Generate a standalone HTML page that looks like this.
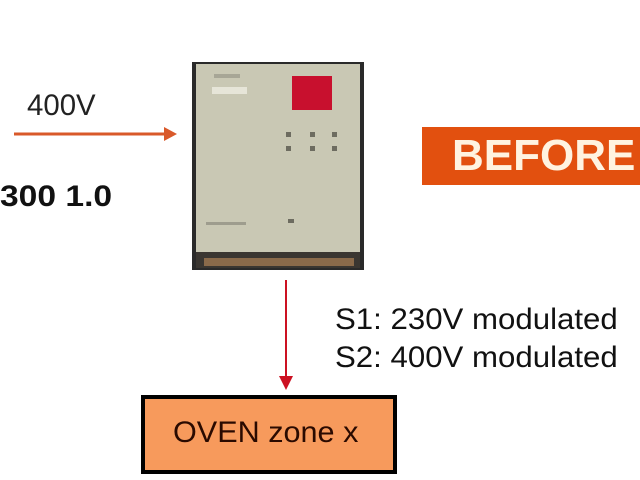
<!DOCTYPE html>
<html><head><style>
body{margin:0;width:640px;height:480px;background:#fff;position:relative;overflow:hidden;font-family:"Liberation Sans",Arial,sans-serif}
.a{position:absolute;white-space:nowrap;transform-origin:0 0}
</style></head><body>
<div class="a" style="left:27px;top:89px;font-size:30px;color:#222;transform:scaleX(0.98)">400V</div>
<div class="a" style="left:0px;top:180px;font-size:30px;font-weight:bold;color:#111;transform:scaleX(1.12)">300 1.0</div>
<svg class="a" style="left:0;top:0" width="640" height="480">
<line x1="14" y1="134" x2="166" y2="134" stroke="#d9592a" stroke-width="3"/>
<polygon points="164,127 177,134 164,141" fill="#d9592a"/>
<line x1="286" y1="280" x2="286" y2="380" stroke="#cc1122" stroke-width="2"/>
<polygon points="279,376 293,376 286,390" fill="#cc1122"/>
<rect x="192" y="62" width="172" height="208" fill="#2a2a2a"/>
<rect x="196" y="64" width="164" height="196" fill="#c9c8b4"/>
<rect x="292" y="76" width="40" height="34" fill="#c8102e"/>
<rect x="212" y="87" width="35" height="7" fill="#e6e5d8"/>
<rect x="214" y="74" width="26" height="4" fill="#a7a696"/>
<g fill="#6d6c60"><rect x="286" y="132" width="5" height="5"/><rect x="310" y="132" width="5" height="5"/><rect x="332" y="132" width="5" height="5"/>
<rect x="286" y="146" width="5" height="5"/><rect x="310" y="146" width="5" height="5"/><rect x="332" y="146" width="5" height="5"/>
<rect x="288" y="219" width="6" height="4"/><rect x="206" y="222" width="40" height="3" fill="#9e9d8e"/></g>
<rect x="196" y="252" width="164" height="16" fill="#3a3631"/>
<rect x="204" y="258" width="150" height="8" fill="#8a6a4a"/>
<rect x="422" y="127" width="218" height="58" fill="#e2500f"/>
<rect x="143" y="397" width="252" height="75" fill="#f79a5c" stroke="#000" stroke-width="4"/>
</svg>
<div class="a" style="left:452px;top:131px;font-size:44px;font-weight:bold;color:#fff3e0">BEFORE</div>
<div class="a" style="left:335px;top:301px;font-size:30px;line-height:38px;color:#111;transform:scaleX(1.04)">S1: 230V modulated<br>S2: 400V modulated</div>
<div class="a" style="left:173px;top:416px;font-size:30px;color:#2a0a00;transform:scaleX(1.02)">OVEN zone x</div>
</body></html>
